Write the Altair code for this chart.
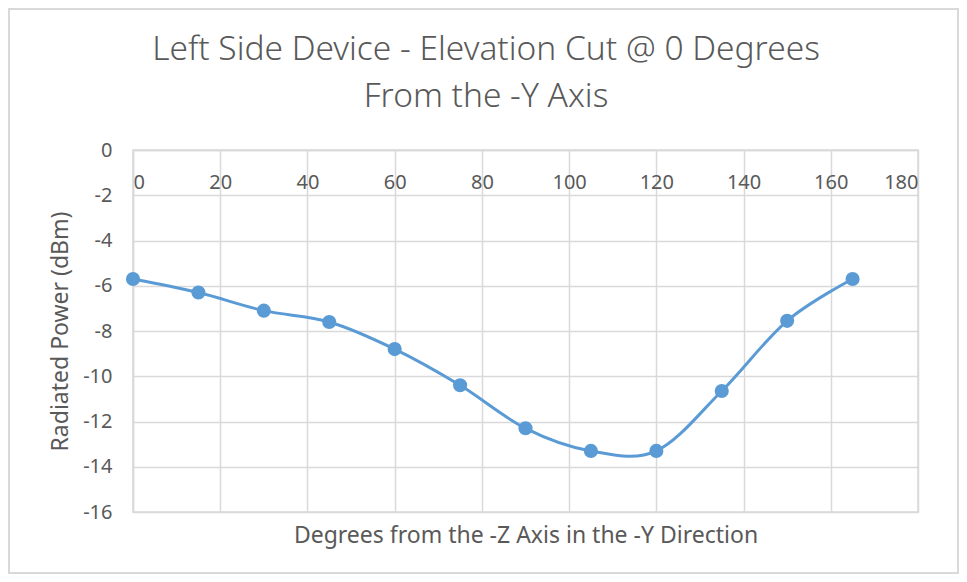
import altair as alt
import pandas as pd

degrees = [0, 15, 30, 45, 60, 75, 90, 105, 120, 135, 150, 165]
power = [-5.7, -6.3, -7.1, -7.6, -8.8, -10.4, -12.3, -13.3, -13.3, -10.65, -7.55, -5.7]
title_lines = ["Left Side Device - Elevation Cut @ 0 Degrees", "From the -Y Axis"]

df = pd.DataFrame({"deg": degrees, "pwr": power})
one = pd.DataFrame({"k": [0]})

TXT = "#595959"
GRID = "#d9d9d9"
BLUE = "#5B9BD5"
FONT = "Noto Sans"

x = alt.X(
    "deg:Q",
    scale=alt.Scale(domain=[0, 180], nice=False, zero=False),
    axis=alt.Axis(
        orient="bottom",
        offset=-362,
        values=list(range(0, 181, 20)),
        ticks=False,
        labelPadding=22,
        labelFontSize=20,
        labelColor=TXT,
        labelFont=FONT,
        domainColor=GRID,
        domainWidth=1.5,
        gridColor=GRID,
        gridWidth=1.5,
        title="Degrees from the -Z Axis in the -Y Direction",
        titleFont=FONT,
        titleFontSize=23,
        titleFontWeight="normal",
        titleColor=TXT,
        titleBaseline="middle",
        titleY=385,
    ),
)
y = alt.Y(
    "pwr:Q",
    scale=alt.Scale(domain=[-16, 0], nice=False, zero=False),
    axis=alt.Axis(
        values=list(range(-16, 1, 2)),
        labelExpr="toString(datum.value)",
        ticks=False,
        labelPadding=21,
        labelFontSize=20,
        labelColor=TXT,
        labelFont=FONT,
        domainColor=GRID,
        domainWidth=1.5,
        gridColor=GRID,
        gridWidth=1.5,
        title="Radiated Power (dBm)",
        titleFont=FONT,
        titleFontSize=23,
        titleFontWeight="normal",
        titleColor=TXT,
        titleX=-73,
        titleY=181,
        titleBaseline="middle",
        titleAlign="center",
        titleAngle=270,
    ),
)

border = alt.Chart(one).mark_rect(
    fill="transparent", stroke=GRID, strokeWidth=2
).encode(x=alt.value(-124), x2=alt.value(825), y=alt.value(-141), y2=alt.value(423))

t1 = alt.Chart(one).mark_text(
    text=title_lines[0], font=FONT, fontSize=33.5, fontWeight=300, color=TXT,
    align="center", baseline="middle"
).encode(x=alt.value(353), y=alt.value(-100))
t2 = alt.Chart(one).mark_text(
    text=title_lines[1], font=FONT, fontSize=33.5, fontWeight=300, color=TXT,
    align="center", baseline="middle"
).encode(x=alt.value(353), y=alt.value(-53))

line = alt.Chart(df).mark_line(
    color=BLUE, strokeWidth=3, interpolate="cardinal", tension=0
).encode(x=x, y=y)

pts = alt.Chart(df).mark_point(
    filled=True, color=BLUE, size=200, opacity=1
).encode(x=x, y=y)

chart = (
    alt.layer(line, pts, border, t1, t2)
    .properties(
        width=785,
        height=362,
        autosize=alt.AutoSizeParams(type="none"),
        padding={"left": 125, "top": 142, "right": 41, "bottom": 62},
    )
    .configure_view(stroke=GRID, strokeWidth=1.5)
)

chart.save("out.html", embed_options={"renderer": "svg", "actions": False})
